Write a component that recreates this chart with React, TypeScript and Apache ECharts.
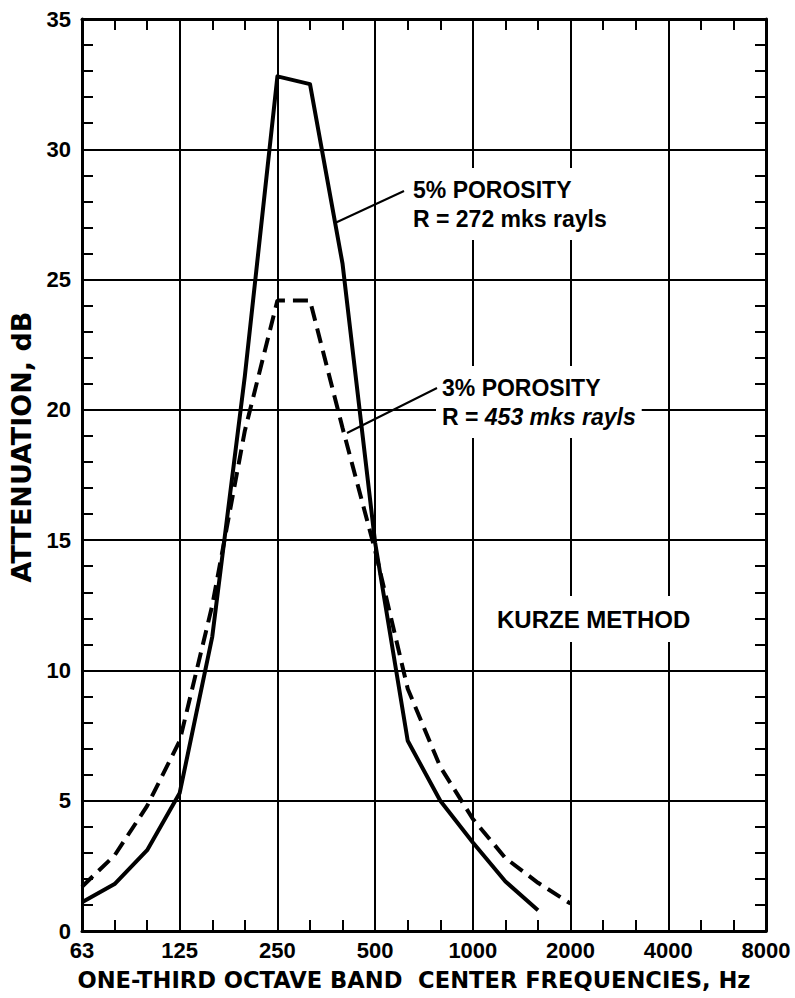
import React, { useEffect, useRef } from 'react';
import * as echarts from 'echarts';

// One-third octave band centre frequencies (Hz)
const bandFrequencies = [63, 80, 100, 125, 160, 200, 250, 315, 400, 500, 630, 800, 1000, 1250, 1600, 2000];
// Attenuation, dB
const porosity5 = [1.1, 1.8, 3.1, 5.3, 11.3, 21.3, 32.8, 32.5, 25.6, 14.9, 7.3, 5.0, 3.4, 1.9, 0.8];
const porosity3 = [1.7, 2.9, 4.8, 7.3, 12.5, 19.2, 24.2, 24.2, 19.3, 14.6, 9.3, 6.3, 4.3, 2.8, 1.85, 1.05];
// Octave tick labels
const xTickLabels = ['63', '125', '250', '500', '1000', '2000', '4000', '8000'];

const bandIndex = (f: number) => Math.round(3 * Math.log2(f / 63));
const toPoints = (vals: number[]) => vals.map((v, i) => [bandIndex(bandFrequencies[i]), v]);

const LABEL_FONT = 'Liberation Sans, Arial, Helvetica, sans-serif';
const WIDE_FONT = 'DejaVu Sans, Liberation Sans, sans-serif';

const G_LEFT = 82;
const G_TOP = 19;
const GRID_W = 684;
const GRID_H = 912;

export default function App() {
  const ref = useRef<HTMLDivElement>(null);
  useEffect(() => {
    if (!ref.current) return;
    const chart = echarts.init(ref.current, undefined, { renderer: 'svg' });
    const axisLine = { show: true, onZero: false, lineStyle: { color: '#000', width: 3 } };
    const noLine = { show: false, onZero: false };
    const splitLine = { show: true, lineStyle: { color: '#000', width: 2 } };
    const tickOut = { show: true, inside: false, length: 11, lineStyle: { color: '#000', width: 2 } };
    const xLabel = {
      show: true,
      margin: 8,
      fontSize: 22,
      fontWeight: 'bold' as const,
      fontFamily: LABEL_FONT,
      color: '#000',
      formatter: (v: number) => xTickLabels[Math.round(v / 3)] ?? '',
    };
    const yLabel = {
      show: true,
      margin: 11,
      fontSize: 22,
      fontWeight: 'bold' as const,
      fontFamily: LABEL_FONT,
      color: '#000',
    };
    const annoStyle = {
      fontSize: 23,
      fontWeight: 'bold' as const,
      fontFamily: LABEL_FONT,
      fill: '#000',
      lineHeight: 29,
      backgroundColor: '#fff',
      padding: [7, 6, 7, 6],
    };
    const xBase = { type: 'value' as const, min: 0, max: 21 };
    const yBase = { type: 'value' as const, min: 0, max: 35 };
    const hiddenX = (gridIndex: number) => ({ ...xBase, gridIndex, show: false, axisLine: noLine });
    const hiddenY = (gridIndex: number) => ({ ...yBase, gridIndex, show: false, axisLine: noLine });
    const tickAxisX = (gridIndex: number, position: 'top' | 'bottom') => ({
      ...xBase, gridIndex, interval: 1, position,
      axisLine: noLine, splitLine: { show: false }, axisLabel: { show: false },
      axisTick: tickOut, minorTick: { show: false },
    });
    const tickAxisY = (gridIndex: number, position: 'left' | 'right') => ({
      ...yBase, gridIndex, interval: 1, position,
      axisLine: noLine, splitLine: { show: false }, axisLabel: { show: false },
      axisTick: tickOut, minorTick: { show: false },
    });
    chart.setOption({
      animation: false,
      backgroundColor: '#fff',
      grid: [
        { left: G_LEFT, top: G_TOP, width: GRID_W, height: GRID_H, containLabel: false },
        // helper grids whose edges coincide with the main plot's edges (for inward ticks)
        { left: 0, top: G_TOP, width: G_LEFT, height: GRID_H, containLabel: false },
        { left: G_LEFT + GRID_W, top: G_TOP, width: 795 - G_LEFT - GRID_W, height: GRID_H, containLabel: false },
        { left: G_LEFT, top: 0, width: GRID_W, height: G_TOP, containLabel: false },
        { left: G_LEFT, top: G_TOP + GRID_H, width: GRID_W, height: 998 - G_TOP - GRID_H, containLabel: false },
      ],
      xAxis: [
        {
          ...xBase, gridIndex: 0, interval: 3, position: 'bottom',
          axisLine, splitLine, axisTick: { show: false },
          axisLabel: xLabel,
        },
        {
          ...xBase, gridIndex: 0, interval: 3, position: 'top',
          axisLine, splitLine: { show: false }, axisTick: { show: false },
          axisLabel: { show: false },
        },
        hiddenX(1),
        hiddenX(2),
        tickAxisX(3, 'bottom'),
        tickAxisX(4, 'top'),
      ],
      yAxis: [
        {
          ...yBase, gridIndex: 0, interval: 5, position: 'left',
          axisLine, splitLine, axisTick: { show: false },
          axisLabel: yLabel,
        },
        {
          ...yBase, gridIndex: 0, interval: 5, position: 'right',
          axisLine, splitLine: { show: false }, axisTick: { show: false },
          axisLabel: { show: false },
        },
        tickAxisY(1, 'right'),
        tickAxisY(2, 'left'),
        hiddenY(3),
        hiddenY(4),
      ],
      series: [
        {
          name: '5% POROSITY',
          type: 'line',
          xAxisIndex: 0,
          yAxisIndex: 0,
          data: toPoints(porosity5),
          symbol: 'none',
          lineStyle: { color: '#000', width: 4, join: 'round' },
          z: 5,
        },
        {
          name: '3% POROSITY',
          type: 'line',
          xAxisIndex: 0,
          yAxisIndex: 0,
          data: toPoints(porosity3),
          symbol: 'none',
          lineStyle: { color: '#000', width: 4, type: [15, 8] },
          z: 5,
        },
      ],
      graphic: [
        {
          type: 'text', x: 21.5, y: 447, rotation: Math.PI / 2, z: 10,
          style: {
            text: 'ATTENUATION, dB', fontSize: 27, fontWeight: 'bold', fontFamily: WIDE_FONT,
            fill: '#000', align: 'center', verticalAlign: 'middle',
          },
        },
        {
          type: 'text', x: 414, y: 980, z: 10,
          style: {
            text: 'ONE-THIRD OCTAVE BAND  CENTER FREQUENCIES, Hz', fontSize: 22.6, fontWeight: 'bold',
            fontFamily: WIDE_FONT, fill: '#000', align: 'center', verticalAlign: 'middle',
          },
        },
        {
          type: 'text', x: 407, y: 168, z: 10,
          style: { ...annoStyle, text: '5% POROSITY\nR = 272 mks rayls', align: 'left', verticalAlign: 'top' },
        },
        {
          type: 'text', x: 436, y: 366, z: 10,
          style: {
            ...annoStyle,
            text: '{n|3% POROSITY}\n{n|R = }{i|453 mks rayls}',
            align: 'left', verticalAlign: 'top',
            rich: {
              n: { fontSize: 23, fontWeight: 'bold', fontFamily: LABEL_FONT, lineHeight: 29 },
              i: { fontSize: 23, fontWeight: 'bold', fontStyle: 'italic', fontFamily: LABEL_FONT, lineHeight: 29 },
            },
          },
        },
        {
          type: 'text', x: 490, y: 596, z: 10,
          style: {
            ...annoStyle, lineHeight: 30, fontSize: 24, text: 'KURZE METHOD', align: 'left', verticalAlign: 'top',
            padding: [8, 7, 8, 7],
          },
        },
        {
          type: 'line', z: 11,
          shape: { x1: 404, y1: 191, x2: 335, y2: 223 },
          style: { stroke: '#000', lineWidth: 2 },
        },
        {
          type: 'line', z: 11,
          shape: { x1: 437, y1: 388, x2: 347, y2: 433 },
          style: { stroke: '#000', lineWidth: 2 },
        },
      ],
    });
    return () => chart.dispose();
  }, []);
  return (
    <div
      ref={ref}
      style={{ position: 'absolute', left: 0, top: 0, width: 795, height: 998, background: '#fff' }}
    />
  );
}
